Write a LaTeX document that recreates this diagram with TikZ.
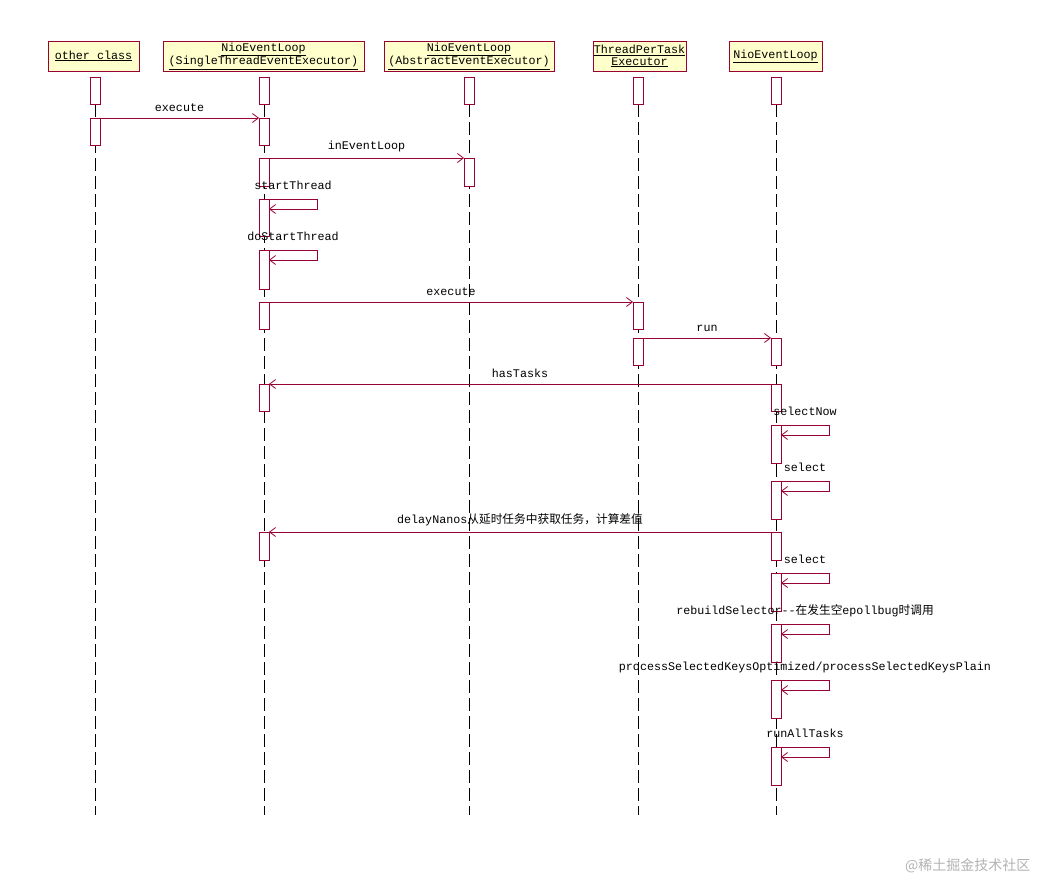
\documentclass[tikz,border=0pt]{standalone}
\usepackage{fontspec}
\setmainfont{Liberation Mono}[Ligatures=NoCommon]
\newfontfamily\cjk{Noto Sans CJK SC}
\usetikzlibrary{arrows.meta}
\definecolor{ln}{HTML}{990033}
\definecolor{hd}{HTML}{FFFFCC}
\begin{document}
\begin{tikzpicture}[x=1pt,y=-1pt,font=\fontsize{11.7}{12}\selectfont,
  head/.style={draw=ln,fill=hd,inner sep=0pt,align=center},
  act/.style={draw=ln,fill=white,line width=0.8pt},
  life/.style={dash pattern=on 13pt off 5pt,line width=0.8pt},
  msg/.style={draw=ln,line width=0.8pt,-{Straight Barb[length=6pt,width=9pt]}},
  lab/.style={inner sep=0pt,anchor=base}]
\useasboundingbox (0,0) rectangle (1040,881);
% headers
\node[head,minimum width=91pt,minimum height=30pt] (h1) at (93.5,56) {\underline{other class}};
\node[head,minimum width=201pt,minimum height=30pt] (h2) at (263.5,56) {\underline{NioEventLoop}\\[0pt]\underline{(SingleThreadEventExecutor)}};
\node[head,minimum width=170pt,minimum height=30pt] (h3) at (469,56) {\underline{NioEventLoop}\\[0pt]\underline{(AbstractEventExecutor)}};
\node[head,minimum width=93pt,minimum height=30pt] (h4) at (639.5,56) {\underline{ThreadPerTask}\\[0pt]\underline{Executor}};
\node[head,minimum width=93pt,minimum height=30pt] (h5) at (775.5,56) {\underline{NioEventLoop}};
% lifelines
\foreach \x/\n in {95/1,264/2,469/3,638/4,776/5}{
  \coordinate (t\n) at (\x,104); \coordinate (b\n) at (\x,815);
  \draw[life] (t\n) -- (b\n);}
% activations
\newcommand\actb[3]{\draw[act] (#1-5,#2) rectangle (#1+5,#3);}
\actb{95}{77}{104}\actb{95}{118}{145}
\foreach \a/\b in {77/104,118/145,158/186,199/236,250/289,302/329,384/411,532/560}{\actb{264}{\a}{\b}}
\actb{469}{77}{104}\actb{469}{158}{186}
\foreach \a/\b in {77/104,302/329,338/365}{\actb{638}{\a}{\b}}
\foreach \a/\b in {77/104,338/365,384/411,425/463,481/519,532/560,573/611,624/662,680/718,747/785}{\actb{776}{\a}{\b}}
% messages
\coordinate (m1a) at (100,118); \coordinate (m1b) at (259,118);
\draw[msg] (m1a) -- node[lab,above=6pt]{execute} (m1b);
\coordinate (m2a) at (269,158); \coordinate (m2b) at (464,158);
\draw[msg] (m2a) -- node[lab,above=6pt]{inEventLoop} (m2b);
\coordinate (m3a) at (269,302); \coordinate (m3b) at (633,302);
\draw[msg] (m3a) -- node[lab,above=6pt]{execute} (m3b);
\coordinate (m4a) at (643,338); \coordinate (m4b) at (771,338);
\draw[msg] (m4a) -- node[lab,above=6pt]{run} (m4b);
\coordinate (m5a) at (771,384); \coordinate (m5b) at (269,384);
\draw[msg] (m5a) -- node[lab,above=6pt]{hasTasks} (m5b);
\coordinate (m6a) at (771,532); \coordinate (m6b) at (269,532);
\draw[msg] (m6a) -- node[lab,above=6pt]{delayNanos{\cjk 从延时任务中获取任务，计算差值}} (m6b);
% self calls
\newcommand\selfc[4]{\coordinate (s#4a) at (#1+5,#2); \coordinate (s#4b) at (#1+53,#2); \coordinate (s#4c) at (#1+53,#2+10); \coordinate (s#4d) at (#1+5,#2+10);
 \draw[msg] (s#4a) -- (s#4b) -- (s#4c) -- (s#4d);
 \node[lab] at (#1+29,#2-10) {#3};}
\selfc{264}{199}{startThread}{1}
\selfc{264}{250}{doStartThread}{2}
\selfc{776}{425}{selectNow}{3}
\selfc{776}{481}{select}{4}
\selfc{776}{573}{select}{5}
\selfc{776}{624}{rebuildSelector-{}-{\cjk 在发生空}epollbug{\cjk 时调用}}{6}
\selfc{776}{680}{processSelectedKeysOptimized/processSelectedKeysPlain}{7}
\selfc{776}{747}{runAllTasks}{8}
\node[anchor=base east,text=gray!60,font=\cjk\fontsize{14}{15}\selectfont] at (1034,870) {@稀土掘金技术社区};
\end{tikzpicture}
\end{document}
